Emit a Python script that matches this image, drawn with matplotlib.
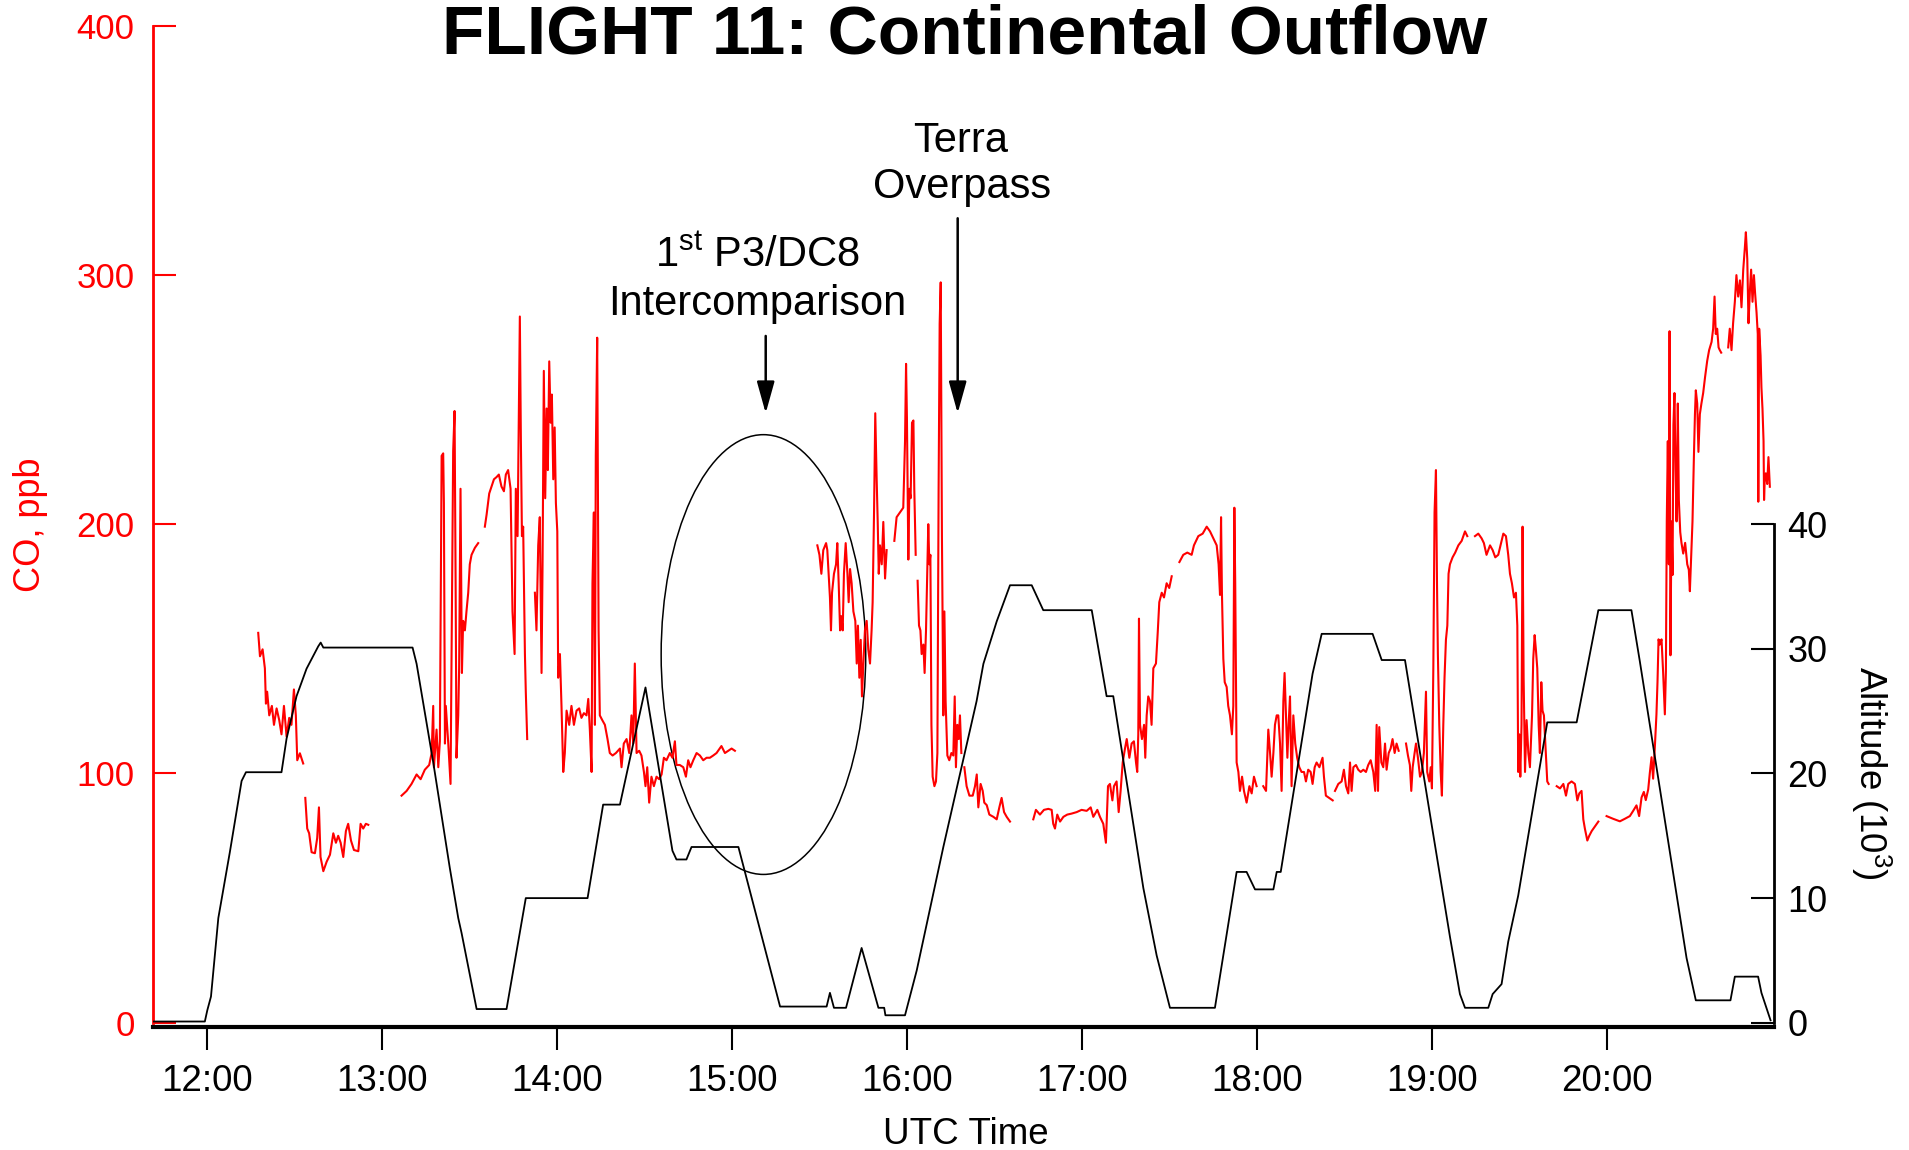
import numpy as np
import matplotlib
matplotlib.use('Agg')
import matplotlib.pyplot as plt
from matplotlib.patches import Ellipse

plt.rcParams['font.family'] = 'Liberation Sans'
plt.rcParams['mathtext.fontset'] = 'custom'
plt.rcParams['mathtext.rm'] = 'Liberation Sans'
plt.rcParams['mathtext.default'] = 'regular'

nan = np.nan

# Altitude (10^3 ft) vs UTC time in decimal hours
alt_t = [11.69, 11.988, 12.002, 12.023, 12.065, 12.131, 12.198, 12.223, 12.426, 12.455,
         12.512, 12.569, 12.636, 12.65, 12.665, 13.175, 13.198, 13.293, 13.388, 13.436,
         13.455, 13.541, 13.712, 13.822, 14.175, 14.264, 14.36, 14.506, 14.66, 14.683,
         14.74, 14.769, 15.037, 15.275, 15.541, 15.56, 15.583, 15.652, 15.741, 15.837,
         15.87, 15.877, 15.989, 16.056, 16.208, 16.398, 16.437, 16.513, 16.589, 16.713,
         16.779, 17.056, 17.141, 17.179, 17.217, 17.351, 17.427, 17.503, 17.76, 17.884,
         17.941, 17.989, 18.094, 18.113, 18.136, 18.318, 18.37, 18.661, 18.713, 18.846,
         18.989, 19.103, 19.16, 19.189, 19.322, 19.347, 19.398, 19.436, 19.493, 19.659,
         19.827, 19.951, 20.14, 20.188, 20.455, 20.508, 20.706, 20.731, 20.864, 20.883,
         20.935]
alt_v = [0.1, 0.1, 1.0, 2.1, 8.4, 13.7, 19.4, 20.1, 20.1, 22.8,
         26.2, 28.4, 30.2, 30.5, 30.1, 30.1, 28.8, 20.9, 12.4, 8.4,
         7.2, 1.1, 1.1, 10.0, 10.0, 17.5, 17.5, 26.9, 13.8, 13.1,
         13.1, 14.1, 14.1, 1.3, 1.3, 2.4, 1.2, 1.2, 6.0, 1.2,
         1.2, 0.6, 0.6, 4.2, 14.1, 25.8, 28.8, 32.2, 35.1, 35.1,
         33.1, 33.1, 26.2, 26.2, 22.8, 10.8, 5.4, 1.2, 1.2, 12.1,
         12.1, 10.7, 10.7, 12.1, 12.1, 28.0, 31.2, 31.2, 29.1, 29.1,
         16.7, 6.9, 2.3, 1.2, 1.2, 2.3, 3.1, 6.5, 10.2, 24.1,
         24.1, 33.1, 33.1, 29.0, 5.2, 1.8, 1.8, 3.7, 3.7, 2.4,
         0.2]

# CO (ppb) vs UTC time, nan marks the data gaps
co_t = [12.293, 12.303, 12.318, 12.331, 12.337, 12.344, 12.356, 12.371, 12.383, 12.398,
        12.413, 12.426, 12.44, 12.455, 12.47, 12.483, 12.497, 12.508, 12.516, 12.531, 12.55, nan,
        12.562, 12.573, 12.584, 12.598, 12.617, 12.63, 12.64, 12.649, 12.665, 12.684,
        12.703, 12.722, 12.737, 12.75, 12.764, 12.779, 12.794, 12.807, 12.823, 12.84,
        12.865, 12.878, 12.893, 12.908, 12.922, nan,
        13.112, 13.141, 13.169, 13.198, 13.221, 13.245, 13.27, 13.284, 13.293, 13.297,
        13.312, 13.322, 13.331, 13.341, 13.35, 13.354, 13.36, 13.365, 13.379, 13.392,
        13.401, 13.407, 13.415, 13.421, 13.426, 13.436, 13.441, 13.449, 13.457, 13.464,
        13.474, 13.483, 13.493, 13.502, 13.512, 13.531, 13.55, nan,
        13.588, 13.598, 13.613, 13.626, 13.64, 13.655, 13.668, 13.683, 13.697, 13.708,
        13.721, 13.735, 13.746, 13.758, 13.765, 13.775, 13.782, 13.788, 13.794, 13.8,
        13.807, 13.817, 13.822, 13.83, nan,
        13.874, 13.883, 13.893, 13.902, 13.912, 13.918, 13.925, 13.933, 13.941, 13.948,
        13.956, 13.964, 13.971, 13.979, 13.987, 13.994, 14.002, 14.007, 14.017, 14.026,
        14.036, 14.045, 14.055, 14.07, 14.083, 14.097, 14.112, 14.127, 14.14, 14.154,
        14.169, 14.179, 14.188, 14.198, 14.203, 14.211, 14.217, 14.222, 14.23, 14.238,
        14.245, 14.259, 14.274, 14.289, 14.302, 14.318, 14.337, 14.36, 14.369, 14.382,
        14.398, 14.413, 14.426, 14.436, 14.445, 14.455, 14.47, 14.483, 14.497, 14.506,
        14.516, 14.527, 14.54, 14.554, 14.569, 14.584, 14.598, 14.611, 14.626, 14.645,
        14.66, 14.674, 14.683, 14.702, 14.722, 14.737, 14.75, 14.763, 14.779, 14.798,
        14.817, 14.836, 14.855, 14.874, 14.893, 14.912, 14.94, 14.96, 14.979, 14.998, 15.017, nan,
        15.488, 15.5, 15.511, 15.522, 15.538, 15.545, 15.56, 15.566, 15.572, 15.583,
        15.595, 15.602, 15.61, 15.618, 15.625, 15.633, 15.64, 15.65, 15.66, 15.667,
        15.675, 15.684, 15.694, 15.705, 15.713, 15.72, 15.728, 15.736, 15.743, 15.751,
        15.76, 15.77, 15.779, 15.789, 15.798, 15.804, 15.812, 15.819, 15.827, 15.833,
        15.839, 15.846, 15.856, 15.865, 15.875, 15.884, nan,
        15.928, 15.941, 15.96, 15.979, 15.989, 15.995, 16.0, 16.008, 16.014, 16.021,
        16.029, 16.037, 16.042, 16.05, nan,
        16.061, 16.069, 16.077, 16.084, 16.094, 16.101, 16.109, 16.117, 16.122, 16.128,
        16.134, 16.14, 16.147, 16.157, 16.166, 16.174, 16.181, 16.187, 16.193, 16.2,
        16.208, 16.214, 16.221, 16.231, 16.242, 16.254, 16.265, 16.273, 16.28, 16.288,
        16.296, 16.303, 16.311, nan,
        16.328, 16.341, 16.357, 16.376, 16.389, 16.399, 16.408, 16.421, 16.433, 16.442,
        16.456, 16.471, 16.494, 16.513, 16.528, 16.541, 16.555, 16.57, 16.589, nan,
        16.722, 16.737, 16.76, 16.783, 16.808, 16.827, 16.836, 16.846, 16.859, 16.875,
        16.894, 16.916, 16.941, 16.97, 16.998, 17.027, 17.05, 17.065, 17.088, 17.103,
        17.122, 17.137, 17.149, 17.16, 17.174, 17.183, 17.198, 17.21, 17.221, 17.233,
        17.246, 17.256, 17.271, 17.284, 17.297, 17.309, 17.316, 17.322, 17.326, 17.332,
        17.343, 17.355, 17.362, 17.37, 17.379, 17.389, 17.398, 17.408, 17.423, 17.433,
        17.442, 17.456, 17.469, 17.484, 17.499, 17.513, nan,
        17.557, 17.579, 17.602, 17.627, 17.64, 17.665, 17.69, 17.713, 17.732, 17.751,
        17.77, 17.781, 17.789, 17.795, 17.8, 17.808, 17.816, 17.827, 17.836, 17.846,
        17.857, 17.865, 17.871, 17.876, 17.884, 17.894, 17.903, 17.915, 17.926, 17.941,
        17.957, 17.97, 17.983, 17.998, nan,
        18.036, 18.052, 18.065, 18.075, 18.084, 18.094, 18.103, 18.113, 18.122, 18.132,
        18.141, 18.151, 18.158, 18.166, 18.174, 18.181, 18.189, 18.198, 18.208, 18.219,
        18.23, 18.242, 18.255, 18.269, 18.28, 18.293, 18.307, 18.318, 18.33, 18.341,
        18.357, 18.375, 18.383, 18.394, 18.413, 18.433, nan,
        18.446, 18.465, 18.484, 18.497, 18.509, 18.522, 18.532, 18.541, 18.551, 18.566,
        18.579, 18.593, 18.608, 18.623, 18.636, 18.65, 18.665, 18.676, 18.684, 18.692,
        18.699, 18.711, 18.722, 18.732, 18.741, 18.753, 18.764, 18.775, 18.787, 18.798, 18.81, nan,
        18.852, 18.863, 18.874, 18.882, 18.89, 18.901, 18.909, 18.92, 18.932, 18.943,
        18.954, 18.966, 18.973, 18.985, 18.993, 19.0, 19.008, 19.015, 19.023, 19.029,
        19.034, 19.042, 19.05, 19.057, 19.065, 19.072, 19.08, 19.088, 19.095, 19.103,
        19.118, 19.133, 19.151, 19.17, 19.189, 19.202, nan,
        19.246, 19.265, 19.284, 19.297, 19.312, 19.332, 19.347, 19.362, 19.379, 19.392,
        19.408, 19.423, 19.436, 19.446, 19.457, 19.469, 19.48, 19.488, 19.493, 19.499,
        19.505, 19.512, 19.518, 19.524, 19.532, 19.541, 19.551, 19.56, 19.572, 19.579,
        19.587, 19.594, 19.602, 19.61, 19.617, 19.625, 19.632, 19.64, 19.652, 19.659, 19.667, nan,
        19.713, 19.732, 19.751, 19.766, 19.779, 19.798, 19.817, 19.831, 19.842, 19.855,
        19.865, 19.874, 19.888, 19.899, 19.913, 19.932, 19.951, nan,
        19.998, 20.036, 20.074, 20.102, 20.131, 20.15, 20.169, 20.184, 20.198, 20.211,
        20.222, 20.236, 20.245, 20.255, 20.264, 20.274, 20.283, 20.289, 20.295, 20.302,
        20.312, 20.321, 20.331, 20.337, 20.342, 20.348, 20.354, 20.358, 20.363, 20.369,
        20.375, 20.38, 20.386, 20.392, 20.398, 20.405, 20.411, 20.419, 20.426, 20.436,
        20.447, 20.459, 20.468, 20.474, 20.482, 20.489, 20.497, 20.503, 20.508, 20.516,
        20.523, 20.531, 20.54, 20.55, 20.561, 20.573, 20.584, 20.598, 20.607, 20.615,
        20.622, 20.63, 20.638, 20.645, 20.653, nan,
        20.693, 20.702, 20.712, 20.721, 20.731, 20.74, 20.75, 20.76, 20.769, 20.779,
        20.788, 20.794, 20.802, 20.809, 20.817, 20.824, 20.832, 20.84, 20.847, 20.855,
        20.862, 20.865, 20.87, 20.878, 20.883, 20.889, 20.895, 20.898, 20.902, 20.908,
        20.916, 20.923, 20.931]
co_v = [156.4, 147, 149.8, 142.2, 128, 132.8, 123.3, 127.1, 119.5, 126.1,
        121.4, 115.7, 127.1, 114.8, 122.3, 119.5, 133.7, 123.3, 105.3, 108.1, 104, nan,
        90.2, 77.9, 76, 68.4, 68, 74.1, 86.4, 66.5, 60.8, 64.6,
        67.4, 76, 72.2, 75, 72.2, 66.5, 76.9, 79.8, 73.1, 69.3,
        68.8, 79.8, 77.9, 79.8, 79.4, nan,
        91.1, 93, 95.8, 99.6, 97.7, 101.5, 103.4, 108.2, 127.1, 102.5,
        117.6, 102.5, 112.9, 227.4, 228.4, 208.5, 112, 127.1, 112, 95.8,
        176.3, 229.3, 245.4, 176.3, 106.3, 123.3, 142.2, 214.2, 140.3, 161.2,
        157.4, 165, 172.5, 183.9, 187.7, 190.5, 192.4, nan,
        199, 203.8, 212.3, 215.1, 218, 218.9, 219.9, 215.1, 213.2, 219.9,
        221.7, 214.2, 165, 147.9, 214.2, 195.2, 242.6, 283.3, 233.1, 195.2,
        199, 147.9, 132.8, 113.8, nan,
        172.5, 157.4, 191.5, 202.8, 140.3, 185.8, 261.5, 210.4, 246.4, 221.7,
        265.3, 240.7, 252, 218, 238.8, 208.5, 197.1, 138.4, 147.9, 127.1,
        100.6, 108.2, 125.2, 119.5, 127.1, 119.5, 125.2, 126.1, 122.3, 124.2,
        123.3, 129.9, 117.6, 100.6, 176.3, 204.7, 119.5, 227.4, 274.8, 157.4,
        123.3, 121.4, 119.5, 113.8, 108.2, 107.2, 108.2, 110, 102.5, 112,
        113.8, 108.2, 123.3, 112, 144.1, 108.2, 109.1, 107.2, 100.6, 94.9,
        102.5, 88.3, 98.7, 94.9, 98.7, 97.7, 99.6, 106.3, 105.3, 108.2,
        106.3, 112.9, 103.4, 103.4, 102.5, 98.7, 105.3, 102.5, 105.3, 108.2,
        107.2, 105.3, 106.3, 106.3, 107.2, 108.2, 111, 108.2, 109.1, 110, 109.1, nan,
        191.5, 187.7, 180.1, 189.6, 192.4, 189.6, 170.6, 157.4, 172.5, 180.1,
        183.9, 192.4, 176.3, 157.4, 163.1, 157.4, 180.1, 192.4, 180.1, 168.7,
        182, 176.3, 165, 161.2, 144.1, 159.3, 138.4, 153.6, 130.9, 144.1,
        157.4, 161.2, 149.8, 144.1, 157.4, 168.7, 204.7, 244.5, 218, 200.9,
        180.1, 191.5, 183.9, 200.9, 178.2, 189.6, nan,
        193.3, 202.8, 204.7, 206.6, 233.1, 264.3, 242.6, 185.8, 214.2, 210.4,
        240.7, 241.6, 214.2, 187.7, nan,
        177.3, 159.3, 157.4, 147.9, 151.7, 140.3, 157.4, 183.9, 200, 183.9,
        187.7, 119.5, 98.7, 94.9, 96.8, 108.2, 214.2, 280.4, 297, 195.2,
        123.3, 165, 129, 107.2, 105.3, 108.2, 107.2, 130.9, 102.5, 119.5,
        113.8, 123.3, 108.2, nan,
        102.5, 94.9, 91.1, 91.1, 94.9, 99.6, 86.4, 95.8, 93, 88.3,
        87.3, 83.5, 82.6, 81.6, 86.4, 90.2, 84.5, 82.6, 80.7, nan,
        81.6, 85.4, 83.5, 85.4, 85.8, 85.4, 79.8, 77.9, 83.5, 80.7,
        82.6, 83.5, 83.9, 84.5, 85.4, 85, 86.4, 82.6, 85.4, 82.6,
        79.8, 72.2, 94.9, 95.8, 89.2, 94.9, 96.8, 84.5, 93, 104.4,
        110, 113.8, 106.3, 112, 112.9, 104.4, 100.6, 115.7, 162.1, 119.5,
        113.8, 119.5, 106.3, 123.3, 130.9, 129, 119.5, 142.2, 144.1, 156.4,
        168.7, 172.5, 170.6, 176.3, 174.4, 179.1, nan,
        184.8, 187.7, 188.6, 187.7, 191.5, 195.2, 196.2, 199, 197.1, 194.3,
        191.5, 183.9, 171.6, 202.8, 172.5, 146, 136.6, 134.7, 127.1, 123.3,
        115.7, 127.1, 206.6, 176.3, 104.4, 100.6, 93, 98.7, 93, 88.3,
        94.9, 92, 98.7, 94.9, nan,
        94.9, 93, 117.6, 108.2, 98.7, 108.2, 119.5, 123.3, 123.3, 112,
        93, 129, 140.3, 123.3, 106.3, 119.5, 130.9, 94.9, 123.3, 112,
        106.3, 102.5, 100.6, 100.6, 96.8, 101.5, 100.6, 95.8, 102.5, 104.4,
        102.5, 106.3, 98.7, 91.1, 90.2, 89.2, nan,
        93, 95.8, 96.8, 101.5, 94.9, 92, 104.4, 93, 102.5, 103.4,
        101.5, 100.6, 101.5, 100.6, 103.4, 105.3, 100.6, 93, 119.5, 93,
        118.6, 104.4, 102.5, 112, 101.5, 108.2, 110, 113.8, 108.2, 112, 109.1, nan,
        112, 107.2, 103.4, 93, 102.5, 108.2, 112, 106.3, 98.7, 100.6,
        108.2, 132.8, 100.6, 96.8, 102.5, 94, 142.2, 204.7, 221.7, 176.3,
        147.9, 119.5, 100.6, 91.1, 119.5, 138.4, 153.6, 159.3, 180.1, 183.9,
        186.7, 188.6, 191.5, 193.3, 197.1, 195.2, nan,
        195.2, 196.2, 194.3, 192.4, 187.7, 191.5, 189.6, 186.7, 187.7, 191.5,
        196.2, 195.2, 187.7, 180.1, 176.3, 170.6, 172.5, 159.3, 100.6, 115.7,
        98.7, 119.5, 199, 138.4, 100.6, 121.4, 108.2, 102.5, 123.3, 146,
        155.5, 149.8, 142.2, 119.5, 108.2, 136.6, 125.2, 123.3, 106.3, 96.8, 95.8, nan,
        94.9, 94, 95.8, 91.1, 95.8, 96.8, 95.8, 89.2, 92, 93,
        81.6, 77.9, 73.1, 75, 76.9, 78.8, 80.7, nan,
        82.9, 81.8, 80.8, 81.8, 82.9, 85, 87.2, 82.9, 90.4, 92.6,
        89.3, 93.6, 100.1, 106.5, 97.9, 110.8, 123.7, 136.6, 153.8, 151.7,
        153.8, 140.9, 123.7, 140.9, 201.1, 233.3, 183.9, 277.4, 147.4, 201.1,
        179.6, 239.8, 252.6, 222.6, 201.1, 248.4, 209.7, 196.8, 192.5, 188.2,
        192.5, 183.9, 181.7, 173.1, 188.2, 201.1, 226.9, 244.1, 253.7, 248.4,
        229, 244.1, 248.4, 252.6, 259.1, 265.5, 269.8, 273.1, 278.4, 291.3,
        276.3, 278.4, 270.9, 269.8, 268.8, nan,
        270.9, 278.4, 269.8, 280.6, 289.2, 299.9, 291.3, 297.8, 287, 302.1,
        310.7, 317.1, 306.4, 280.6, 293.5, 302.1, 289.2, 299.9, 292.4, 284.9,
        276.3, 209, 278.4, 267.7, 254.8, 246.2, 233.3, 209.7, 218.3, 220.4,
        216.1, 226.9, 215]

hours = [12, 13, 14, 15, 16, 17, 18, 19, 20]
hour_labels = ['12:00', '13:00', '14:00', '15:00', '16:00', '17:00', '18:00', '19:00', '20:00']
co_ticks = [0, 100, 200, 300, 400]
alt_ticks = [0, 10, 20, 30, 40]

fig = plt.figure(figsize=(19.09, 11.5), dpi=100)
ax = fig.add_axes([0.07999, 0.10696, 0.84904, 0.8708])

# CO trace (left axis)
ax.plot(co_t, co_v, color='red', lw=1.5)
ax.set_xlim(11.69, 20.952)
ax.set_ylim(-1.7, 400)

ax.spines['top'].set_visible(False)
ax.spines['right'].set_visible(False)
ax.spines['left'].set_color('red')
ax.spines['left'].set_linewidth(2)
ax.spines['left'].set_bounds(0, 400)
ax.spines['bottom'].set_linewidth(3)

ax.set_xticks(hours)
ax.set_xticklabels(hour_labels)
ax.set_yticks(co_ticks)
ax.tick_params(axis='x', direction='out', length=16.5, width=1.5, labelsize=26.5, pad=10)
ax.tick_params(axis='y', direction='in', length=16.5, width=1.5, colors='red', labelsize=25, pad=13)

# ellipse round the intercomparison period
ax.add_patch(Ellipse((15.18, 147.7), width=1.169, height=176.4, fill=False,
                     edgecolor='black', lw=1.1))

# annotations
ax.text(16.309, 349.4, 'Terra', ha='center', va='baseline', fontsize=30)
ax.text(16.313, 330.7, 'Overpass', ha='center', va='baseline', fontsize=30)
ax.text(15.146, 303.3, '1$^{st}$ P3/DC8', ha='center', va='baseline', fontsize=30)
ax.text(15.146, 283.9, 'Intercomparison', ha='center', va='baseline', fontsize=30)
arrow = dict(arrowstyle='-|>,head_length=0.97,head_width=0.27', color='black', lw=1.8,
             mutation_scale=20, shrinkA=0, shrinkB=0)
ax.annotate('', xy=(16.29, 244.5), xytext=(16.29, 322.7), arrowprops=arrow)
ax.annotate('', xy=(15.193, 244.5), xytext=(15.193, 275.5), arrowprops=arrow)

# altitude (right axis)
ax2 = ax.twinx()
ax2.plot(alt_t, alt_v, color='black', lw=1.3)
ax2.set_ylim(-0.34, 80)
for s in ['top', 'left', 'bottom']:
    ax2.spines[s].set_visible(False)
ax2.spines['right'].set_linewidth(2)
ax2.spines['right'].set_bounds(0, 40)
ax2.set_yticks(alt_ticks)
ax2.tick_params(axis='y', direction='in', length=16.5, width=1.5, labelsize=26, pad=10)

# labels and title
fig.text(31 / 1909, 1 - 524.7 / 1150, 'CO, ppb', rotation=90, color='red', fontsize=26,
         ha='center', va='center')
fig.text(1871 / 1909, 1 - 773 / 1150, 'Altitude (10$^3$)', rotation=270, fontsize=26.5,
         ha='center', va='center')
fig.text(965.5 / 1909, 1 - 1144.5 / 1150, 'UTC Time', ha='center', va='baseline', fontsize=26.5)
fig.text(964.3 / 1909, 1 - 53.6 / 1150, 'FLIGHT 11: Continental Outflow', ha='center',
         va='baseline', fontsize=50, fontweight='bold')

fig.savefig('out.png', dpi=100)
